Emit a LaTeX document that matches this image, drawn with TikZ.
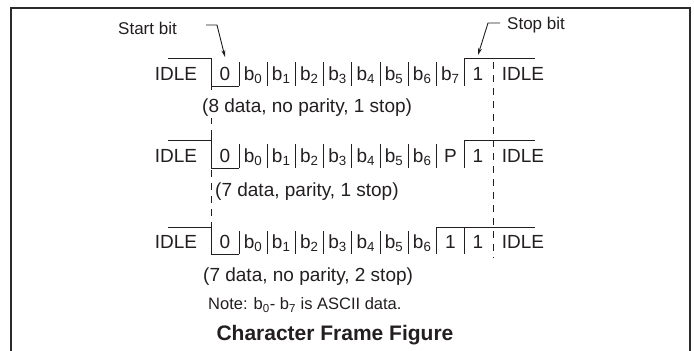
\documentclass[tikz,border=0pt]{standalone}
\usepackage{fontspec}
\setmainfont{Liberation Sans}
\usetikzlibrary{arrows.meta}
\definecolor{ink}{HTML}{231F20}
\definecolor{framec}{HTML}{2B2B2B}
\begin{document}
\begin{tikzpicture}[x=1pt,y=-1pt,
  sig/.style={draw=ink,line width=0.9pt},
  refline/.style={draw=ink,line width=0.9pt,dash pattern=on 7pt off 6pt},
  cell/.style={inner sep=0pt,anchor=base,text=ink,font=\fontsize{19}{22}\selectfont},
  captext/.style={inner sep=0pt,anchor=west,text=ink,font=\fontsize{19}{22}\selectfont},
  lbl/.style={inner sep=0pt,anchor=west,text=ink,font=\fontsize{17}{20}\selectfont},
  pointer/.style={draw=ink,line width=0.9pt,-{Stealth[length=7pt,width=4pt]}},
]
\useasboundingbox (0,0) rectangle (694,351);
\fill[white] (0,0) rectangle (694,351);
% outer frame (open at bottom)
\draw[framec,line width=2.2pt] (11,352) -- (11,8) -- (690,8) -- (690,352);

% labels with pointers
\node[lbl] (startlbl) at (118,28) {Start bit};
\node[lbl] (stoplbl) at (507,25) {Stop bit};
\coordinate (sa) at (206,25);
\coordinate (sb) at (217,25);
\coordinate (sc) at (225,57);
\coordinate (ta) at (500,23);
\coordinate (tb) at (488,23);
\coordinate (tc) at (478,55);
\draw[pointer] (sa) -- (sb) -- (sc);
\draw[pointer] (ta) -- (tb) -- (tc);

% reference lines
\draw[sig] (211,118) -- (211,124);
\draw[refline] (211,170) -- (211,227);
\draw[refline] (493,62) -- (493,258);

% ---------- Row 1 ----------
\draw[sig] (168,58) -- (211,58) -- (211,90);
\draw[sig] (211,86) -- (239,86);
\foreach \k in {0,...,7} \draw[sig] ({239+28.2*\k},62) -- ({239+28.2*\k},86);
\draw[sig] (464.6,86) -- (464.6,58) -- (535,58);
\node[cell] (r1idle) at (176,80) {IDLE};
\node[cell] (r1s) at (225,80) {0};
\foreach \k in {0,...,7} \node[cell] (r1b\k) at ({253+28.2*\k},80) {b\textsubscript{\k}};
\node[cell] (r1p) at (478,80) {1};
\node[cell] (r1idler) at (523,80) {IDLE};
\node[captext] (cap1) at (202,108) {(8 data, no parity, 1 stop)};

% ---------- Row 2 ----------
\draw[sig] (168,140) -- (211,140) -- (211,168) -- (239,168);
\draw[sig] (211,130) -- (211,140);
\foreach \k in {0,...,7} \draw[sig] ({239+28.2*\k},144) -- ({239+28.2*\k},168);
\draw[sig] (464.6,168) -- (464.6,140) -- (535,140);
\node[cell] (r2idle) at (176,162) {IDLE};
\node[cell] (r2s) at (225,162) {0};
\foreach \k in {0,...,6} \node[cell] (r2b\k) at ({253+28.2*\k},162) {b\textsubscript{\k}};
\node[cell] (r2par) at (450.5,162) {P};
\node[cell] (r2p) at (478,162) {1};
\node[cell] (r2idler) at (523,162) {IDLE};
\node[captext] (cap2) at (215,192) {(7 data, parity, 1 stop)};

% ---------- Row 3 ----------
\draw[sig] (168,227) -- (211,227) -- (211,254) -- (239,254);
\foreach \k in {0,...,6} \draw[sig] ({239+28.2*\k},231) -- ({239+28.2*\k},254);
\draw[sig] (436.4,254) -- (436.4,227) -- (535,227);
\draw[sig] (464.6,227) -- (464.6,254);
\node[cell] (r3idle) at (176,248) {IDLE};
\node[cell] (r3s) at (225,248) {0};
\foreach \k in {0,...,6} \node[cell] (r3b\k) at ({253+28.2*\k},248) {b\textsubscript{\k}};
\node[cell] (r3pa) at (450.5,248) {1};
\node[cell] (r3pb) at (478,248) {1};
\node[cell] (r3idler) at (523,248) {IDLE};
\node[captext] (cap3) at (203,277) {(7 data, no parity, 2 stop)};

% note and title
\node[inner sep=0pt,anchor=west,text=ink,font=\fontsize{16.5}{20}\selectfont] (note) at (208,305) {Note: b\textsubscript{0}- b\textsubscript{7} is ASCII data.};
\node[inner sep=0pt,text=ink,font=\fontsize{21}{25}\selectfont\bfseries] (title) at (335,335) {Character Frame Figure};
\end{tikzpicture}
\end{document}
